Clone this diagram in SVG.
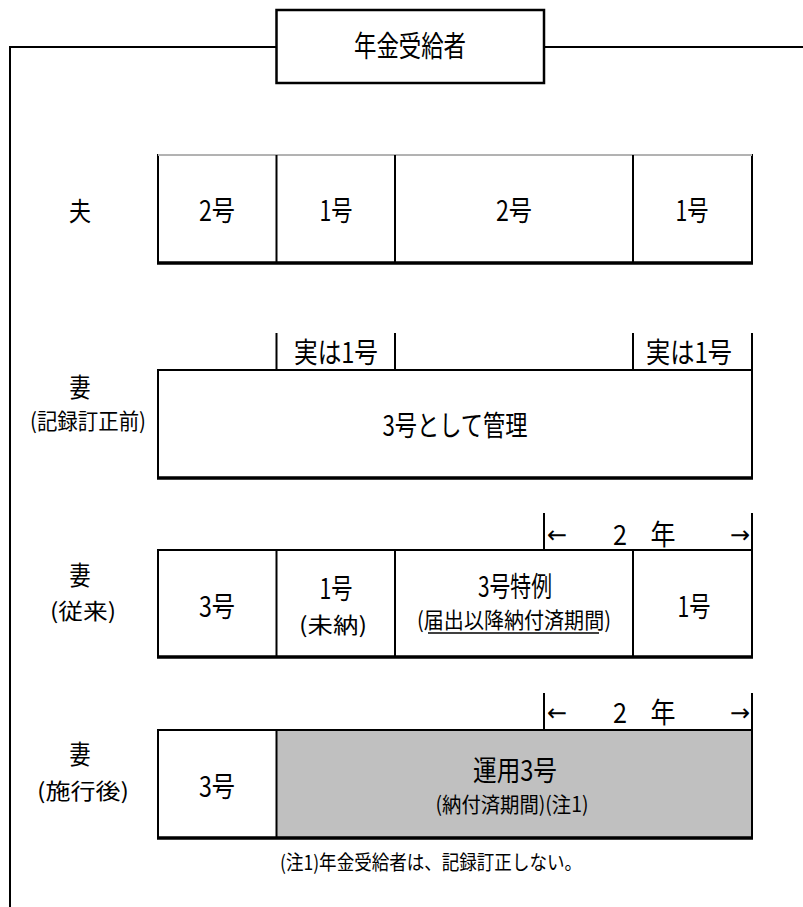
<svg xmlns="http://www.w3.org/2000/svg" width="803" height="907" viewBox="0 0 803 907">
<style>
  text { font-family: "Noto Sans CJK JP", "Noto Sans CJK SC", sans-serif; fill: #000; text-anchor: middle; }
  .big { font-size: 28px; }
  .lbl { font-size: 26px; }
  .par { font-size: 22px; }
  .sm { font-size: 21px; }
  .note { font-size: 20px; }
  .arr { font-family: "DejaVu Sans", sans-serif; font-size: 24px; }
  .box { fill: #fff; stroke: #000; stroke-width: 2; }
  .ln { stroke: #000; stroke-width: 2; fill: none; }
  .thick { stroke: #000; stroke-width: 3.5; fill: none; }
  .grey { fill: #c0c0c0; }
</style>
<rect width="803" height="907" fill="#fff"/>

<g id="frame">
  <path class="ln" d="M276.5,47 H10 V907 M544,47 H803"/>
</g>

<g id="title">
  <rect x="276.5" y="10" width="267.5" height="73" fill="#fff" stroke="#000" stroke-width="2.5"/>
  <text x="410" y="57" font-size="29" textLength="112" lengthAdjust="spacingAndGlyphs">年金受給者</text>
</g>

<g id="row-husband">
  <text class="lbl" x="80" y="221" textLength="22" lengthAdjust="spacingAndGlyphs">夫</text>
  <rect class="box" x="158" y="155" width="594" height="108" stroke-width="1.6"/>
  <line x1="158" y1="155" x2="752" y2="155" stroke="#fff" stroke-width="2"/>
  <line x1="158" y1="155" x2="752" y2="155" stroke="#666" stroke-width="1"/>
  <line class="thick" x1="157" y1="263" x2="753" y2="263"/>
  <path class="ln" d="M276.5,155 V263 M395,155 V263 M633,155 V263" stroke-width="1.6"/>
  <text class="big" x="217" y="221" textLength="36" lengthAdjust="spacingAndGlyphs">2号</text>
  <text class="big" x="336" y="221" textLength="33" lengthAdjust="spacingAndGlyphs">1号</text>
  <text class="big" x="514" y="221" textLength="36" lengthAdjust="spacingAndGlyphs">2号</text>
  <text class="big" x="692" y="221" textLength="33" lengthAdjust="spacingAndGlyphs">1号</text>
</g>

<g id="row-wife-before">
  <text class="lbl" x="80" y="397" textLength="21" lengthAdjust="spacingAndGlyphs">妻</text>
  <text class="par" x="88" y="429" textLength="116" lengthAdjust="spacingAndGlyphs">(記録訂正前)</text>
  <path class="ln" d="M276.5,333 V370 M395,333 V370 M633,333 V370 M752,333 V370"/>
  <text class="big" x="336" y="363" textLength="84" lengthAdjust="spacingAndGlyphs">実は1号</text>
  <text class="big" x="689" y="363" textLength="86" lengthAdjust="spacingAndGlyphs">実は1号</text>
  <rect class="box" x="158" y="370" width="594" height="108"/>
  <line class="thick" x1="157" y1="478" x2="753" y2="478"/>
  <text class="big" x="455" y="436" textLength="145" lengthAdjust="spacingAndGlyphs">3号として管理</text>
</g>

<g id="row-wife-conventional">
  <text class="lbl" x="80" y="585" textLength="21" lengthAdjust="spacingAndGlyphs">妻</text>
  <text class="par" x="83" y="619" textLength="66" lengthAdjust="spacingAndGlyphs">(従来)</text>
  <path class="ln" d="M544,513 V550 M752,513 V550"/>
  <text class="arr" x="557" y="543">←</text>
  <text class="big" x="620" y="545" textLength="14" lengthAdjust="spacingAndGlyphs">2</text>
  <text class="big" x="663" y="545" textLength="25" lengthAdjust="spacingAndGlyphs">年</text>
  <text class="arr" x="740" y="543">→</text>
  <rect class="box" x="158" y="550" width="594" height="107"/>
  <line class="thick" x1="157" y1="657" x2="753" y2="657"/>
  <path class="ln" d="M276.5,550 V657 M395,550 V657 M633,550 V657"/>
  <text class="big" x="217" y="617" textLength="36" lengthAdjust="spacingAndGlyphs">3号</text>
  <text class="big" x="336" y="599" textLength="33" lengthAdjust="spacingAndGlyphs">1号</text>
  <text class="par" x="333" y="633" textLength="68" lengthAdjust="spacingAndGlyphs">(未納)</text>
  <text class="big" x="515" y="597" textLength="74" lengthAdjust="spacingAndGlyphs">3号特例</text>
  <text class="par" x="514" y="628" textLength="194" lengthAdjust="spacingAndGlyphs">(届出以降納付済期間)</text>
  <line x1="428" y1="633" x2="599" y2="633" stroke="#000" stroke-width="1.5"/>
  <text class="big" x="694" y="617" textLength="33" lengthAdjust="spacingAndGlyphs">1号</text>
</g>

<g id="row-wife-after">
  <text class="lbl" x="80" y="764" textLength="21" lengthAdjust="spacingAndGlyphs">妻</text>
  <text class="par" x="83" y="799" textLength="92" lengthAdjust="spacingAndGlyphs">(施行後)</text>
  <path class="ln" d="M544,693 V730 M752,693 V730"/>
  <text class="arr" x="557" y="721">←</text>
  <text class="big" x="620" y="723" textLength="14" lengthAdjust="spacingAndGlyphs">2</text>
  <text class="big" x="663" y="723" textLength="25" lengthAdjust="spacingAndGlyphs">年</text>
  <text class="arr" x="740" y="721">→</text>
  <rect class="box" x="158" y="730" width="594" height="108"/>
  <rect class="grey" x="276.5" y="731" width="474.5" height="106"/>
  <line class="thick" x1="157" y1="838" x2="753" y2="838"/>
  <path class="ln" d="M276.5,730 V838" stroke-width="1.6"/>
  <text class="big" x="217" y="797" textLength="36" lengthAdjust="spacingAndGlyphs">3号</text>
  <text class="big" x="515" y="781" textLength="84" lengthAdjust="spacingAndGlyphs">運用3号</text>
  <text class="sm" x="512" y="812" textLength="153" lengthAdjust="spacingAndGlyphs">(納付済期間)(注1)</text>
</g>

<g id="note">
  <text class="note" x="431" y="870" textLength="302" lengthAdjust="spacingAndGlyphs">(注1)年金受給者は、記録訂正しない。</text>
</g>
</svg>
